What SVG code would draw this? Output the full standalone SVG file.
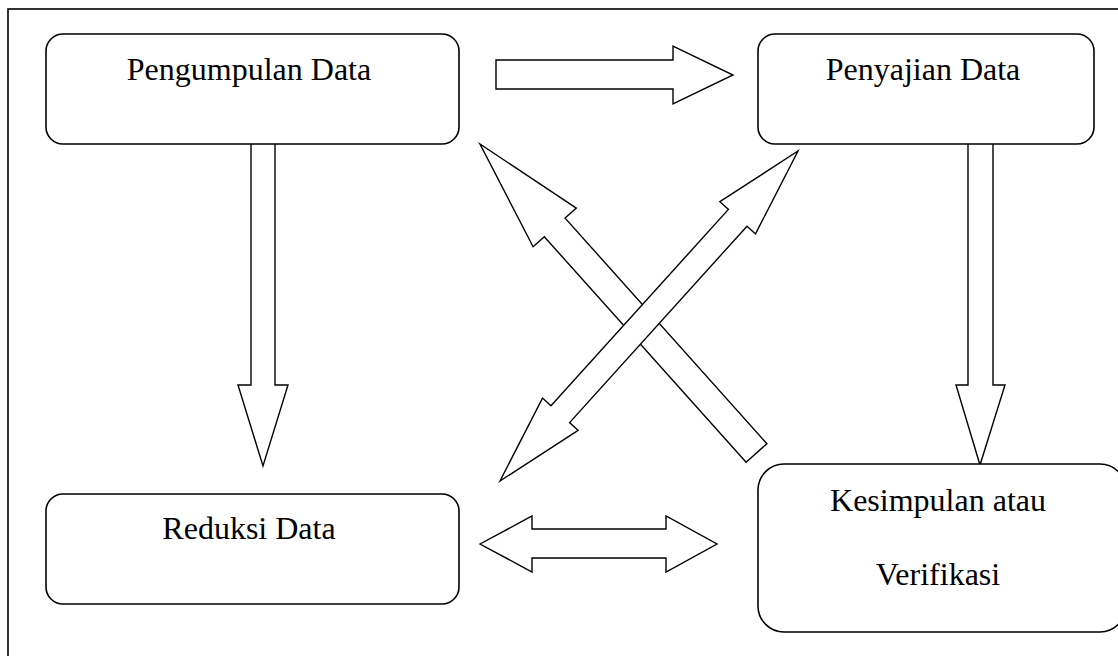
<svg xmlns="http://www.w3.org/2000/svg" width="1118" height="656" viewBox="0 0 1118 656">
<style>
.box{fill:#fff;stroke:#000;stroke-width:1.6}
.arr{fill:#fff;stroke:#000;stroke-width:1.4;stroke-linejoin:miter}
.lbl{font-family:"Liberation Serif","Times New Roman",serif;font-size:32px;fill:#000;text-anchor:middle}
</style>
<rect x="0" y="0" width="1118" height="656" fill="#fff"/>
<rect id="frame" x="8" y="9" width="1130" height="680" fill="none" stroke="#000" stroke-width="1.6"/>
<g id="connectors">
<polygon class="arr" points="496,60 673,60 673,46 733,75 673,104 673,89 496,89"/>
<polygon class="arr" points="251,143 275,143 275,385 288,385 263,466 238,385 251,385"/>
<polygon class="arr" points="968,143 993,143 993,385 1005,385 980,465 956,385 968,385"/>
<polygon class="arr" points="480,544 532,516 532,529 666,529 666,516 717,544 666,572 666,558 532,558 532,572"/>
<polygon class="arr" points="480,144 576.3,208.1 565.1,218.1 766.9,443.7 746.1,462.3 544.3,236.7 533.1,246.7"/>
<polygon class="arr" points="500,481 542.5,398.1 551,405.8 728.4,209.4 719.9,201.7 798,151 755.5,233.9 747,226.2 569.6,422.6 578.1,430.3"/>
</g>
<g id="pengumpulan">
<rect class="box" x="46" y="34" width="413" height="110" rx="17" ry="17"/>
<text class="lbl" x="249" y="80">Pengumpulan Data</text>
</g>
<g id="penyajian">
<rect class="box" x="758" y="34" width="336" height="110" rx="17" ry="17"/>
<text class="lbl" x="923" y="80">Penyajian Data</text>
</g>
<g id="reduksi">
<rect class="box" x="46" y="494" width="413" height="110" rx="17" ry="17"/>
<text class="lbl" x="249" y="539">Reduksi Data</text>
</g>
<g id="kesimpulan">
<rect class="box" x="758" y="464" width="368" height="168" rx="26" ry="26"/>
<text class="lbl" x="938" y="511">Kesimpulan atau</text>
<text class="lbl" x="938" y="585">Verifikasi</text>
</g>
</svg>
